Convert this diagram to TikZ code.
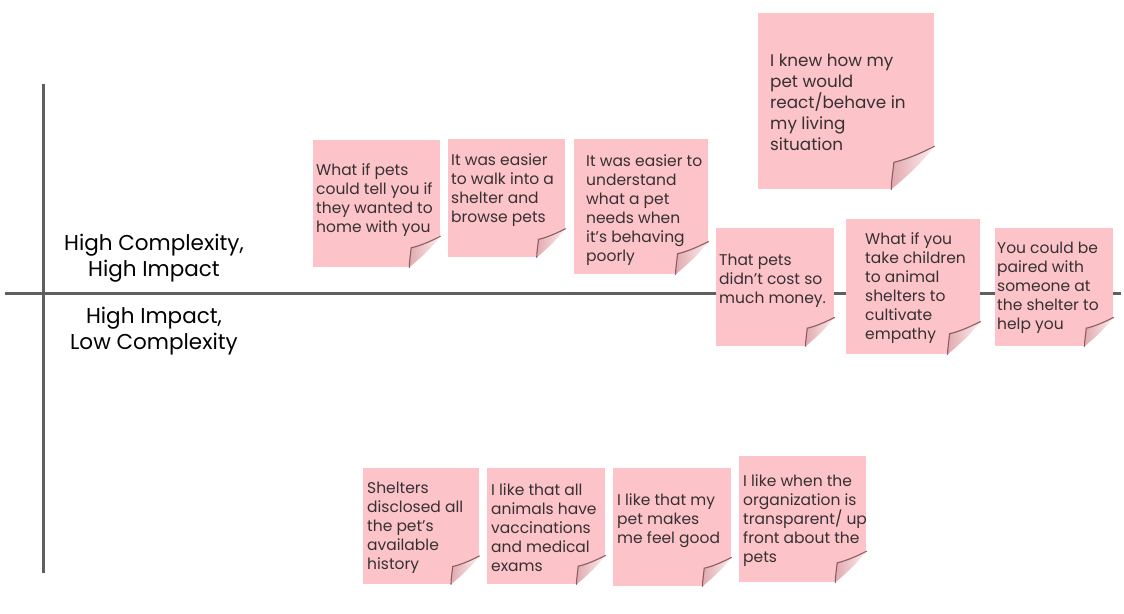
\documentclass[tikz,border=0pt]{standalone}
\usepackage{fontspec}
\setmainfont{Poppins}
\newfontfamily\notefont{Poppins}
\usetikzlibrary{calc, positioning}

\definecolor{notepink}{RGB}{252,196,200}
\definecolor{notefold}{RGB}{140,92,100}
\definecolor{notetextcol}{RGB}{55,48,50}
\definecolor{axisgray}{RGB}{95,95,95}

\tikzset{
  notebody/.style={fill=notepink, draw=none, anchor=north west, inner sep=0pt},
  notetext/.style={anchor=west, align=left, inner sep=0pt, text=notetextcol,
    font=\notefont\fontsize{15.5}{19}\selectfont},
  bignotetext/.style={notetext, font=\notefont\fontsize{16.8}{21}\selectfont},
  quadlabel/.style={align=center, inner sep=0pt, font=\fontsize{21.5}{26}\selectfont},
  axisline/.style={draw=axisgray, line width=3pt},
}

% sticky note: [text style], name, x0, y0, x1, y1, text x, text y, text
\newcommand{\stickynote}[9][notetext]{%
  \pgfmathsetmacro{\notew}{#5-#3}
  \pgfmathsetmacro{\noteh}{#6-#4}
  \pgfmathsetmacro{\foldc}{0.245*\notew}
  \node[notebody, minimum width=\notew pt, minimum height=\noteh pt] (#2) at (#3,#4) {};
  \coordinate (#2-a) at ($(#2.south east)+(0,-\foldc)$);
  \coordinate (#2-b) at ($(#2.south east)+(-\foldc,0)$);
  \coordinate (#2-t) at ($(#2.south east)+(-0.94*\foldc,-0.63*\foldc)$);
  \fill[white] (#2-a) -- ($(#2.south east)+(1,1)$) -- (#2-b) -- cycle;
  \shade[left color=notepink!75!notefold, right color=notepink!30!white]
    (#2-a) .. controls ($(#2.south east)+(-0.35*\foldc,-0.82*\foldc)$) and ($(#2.south east)+(-0.7*\foldc,-0.68*\foldc)$) .. (#2-t)
    .. controls ($(#2.south east)+(-0.96*\foldc,-0.4*\foldc)$) and ($(#2.south east)+(-1.0*\foldc,-0.2*\foldc)$) .. (#2-b)
    .. controls ($(#2.south east)+(-0.55*\foldc,-0.38*\foldc)$) and ($(#2.south east)+(-0.3*\foldc,-0.62*\foldc)$) .. (#2-a) -- cycle;
  \draw[notefold, line width=1.1pt, line cap=round]
    (#2-a) .. controls ($(#2.south east)+(-0.35*\foldc,-0.82*\foldc)$) and ($(#2.south east)+(-0.7*\foldc,-0.68*\foldc)$) .. (#2-t)
    .. controls ($(#2.south east)+(-0.96*\foldc,-0.4*\foldc)$) and ($(#2.south east)+(-1.0*\foldc,-0.2*\foldc)$) .. (#2-b);
  \node[#1] (#2-txt) at (#7,#8) {#9};
}

\begin{document}
\begin{tikzpicture}[x=1pt, y=-1pt]
\useasboundingbox (0,0) rectangle (1124,613);

% Axes
\coordinate (vtop) at (43.5,84);
\coordinate (vbot) at (43.5,573);
\coordinate (hleft) at (5,293.5);
\coordinate (hright) at (1121,293.5);
\draw[axisline] (vtop) -- (vbot);
\draw[axisline] (hleft) -- (hright);

% Quadrant names
\node[quadlabel] (upperlabel) at (154,258) {High Complexity,\\High Impact};
\node[quadlabel] (lowerlabel) at (154,331) {High Impact,\\Low Complexity};

% Upper row
\stickynote{petstell}{313}{140}{440}{267}{316}{200}{What if pets\\could tell you if\\they wanted to\\home with you}
\stickynote{walkin}{448}{139}{565}{257}{451}{190}{It was easier\\to walk into a\\shelter and\\browse pets}
\stickynote{understand}{574}{139}{708}{274}{586}{210}{It was easier to\\understand\\what a pet\\needs when\\it’s behaving\\poorly}
\stickynote[bignotetext]{react}{758}{13}{934}{189}{770}{102}{I knew how my\\pet would\\react/behave in\\my living\\situation}

% On the line
\stickynote{cost}{716}{228}{834}{346}{719}{281}{That pets\\didn’t cost so\\much money.}
\stickynote{children}{846}{219}{980}{354}{865}{288}{What if you\\take children\\to animal\\shelters to\\cultivate\\empathy}
\stickynote{paired}{995}{228}{1113}{346}{997}{288}{You could be\\paired with\\someone at\\the shelter to\\help you}

% Lower row
\stickynote{history}{363}{468}{479}{584}{367}{528}{Shelters\\disclosed all\\the pet’s\\available\\history}
\stickynote{vaccines}{487}{468}{605}{584}{491}{528}{I like that all\\animals have\\vaccinations\\and medical\\exams}
\stickynote{feelgood}{613}{468}{731}{586}{617}{521}{I like that my\\pet makes\\me feel good}
\stickynote{transparent}{739}{456}{866}{582}{743}{521}{I like when the\\organization is\\transparent/ up\\front about the\\pets}
\end{tikzpicture}
\end{document}
